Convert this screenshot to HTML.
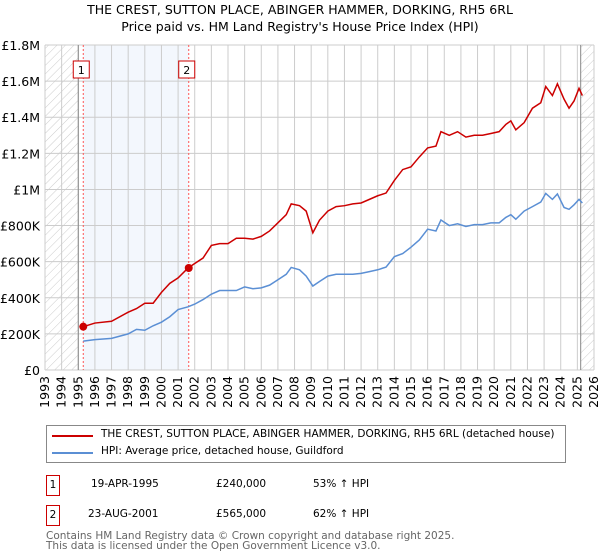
<!DOCTYPE html>
<html><head><meta charset="utf-8"><style>
body{margin:0;background:#fff;font-family:"DejaVu Sans","Liberation Sans",sans-serif;color:#000}
.t{position:absolute;font-size:13px;white-space:nowrap}
</style></head><body>
<div style="position:relative;width:600px;height:560px;overflow:hidden">
<div class="t" style="left:0;width:600px;text-align:center;top:2px;font-size:12.5px">THE CREST, SUTTON PLACE, ABINGER HAMMER, DORKING, RH5 6RL</div>
<div class="t" style="left:0;width:600px;text-align:center;top:19px;font-size:12.5px">Price paid vs. HM Land Registry's House Price Index (HPI)</div>
<svg id="chart" width="600" height="410" style="position:absolute;left:0;top:0">
<defs><pattern id="hatch" width="6" height="6" patternUnits="userSpaceOnUse" patternTransform="rotate(45)"><line x1="0" y1="0" x2="0" y2="6" stroke="#ccc" stroke-width="1"/></pattern></defs>
<g id="g"></g></svg>
<div style="position:absolute;left:46px;top:425px;width:520px;height:38px;border:1px solid #888;box-sizing:border-box">
<div style="position:absolute;left:5px;top:9px;width:41px;height:2px;background:#cc0000"></div>
<div class="t" style="left:54px;top:2px;font-size:10.5px">THE CREST, SUTTON PLACE, ABINGER HAMMER, DORKING, RH5 6RL (detached house)</div>
<div style="position:absolute;left:5px;top:26px;width:41px;height:2px;background:#5b8fd4"></div>
<div class="t" style="left:54px;top:19px;font-size:10.5px">HPI: Average price, detached house, Guildford</div>
</div>
<div style="position:absolute;left:46px;top:475px;width:14px;height:21px;border:1px solid #c00;box-sizing:border-box;font-size:10.5px;text-align:center;line-height:19px">1</div>
<div class="t" style="left:91px;top:478px;font-size:10.5px">19-APR-1995</div>
<div class="t" style="left:216px;top:478px;font-size:10.5px">£240,000</div>
<div class="t" style="left:313px;top:478px;font-size:10.5px">53% ↑ HPI</div>
<div style="position:absolute;left:46px;top:505px;width:14px;height:21px;border:1px solid #c00;box-sizing:border-box;font-size:10.5px;text-align:center;line-height:19px">2</div>
<div class="t" style="left:88px;top:508px;font-size:10.5px">23-AUG-2001</div>
<div class="t" style="left:216px;top:508px;font-size:10.5px">£565,000</div>
<div class="t" style="left:313px;top:508px;font-size:10.5px">62% ↑ HPI</div>
<div class="t" style="left:46px;top:531px;font-size:10.5px;color:#666;line-height:11px">Contains HM Land Registry data © Crown copyright and database right 2025.</div>
<div class="t" style="left:46px;top:541px;font-size:10.5px;color:#666;line-height:11px">This data is licensed under the Open Government Licence v3.0.</div>
</div>
<script>
const yTicks=[0,200000,400000,600000,800000,1000000,1200000,1400000,1600000,1800000];
const yTickLabels=["£0","£200K","£400K","£600K","£800K","£1M","£1.2M","£1.4M","£1.6M","£1.8M"];
const years=[1993,1994,1995,1996,1997,1998,1999,2000,2001,2002,2003,2004,2005,2006,2007,2008,2009,2010,2011,2012,2013,2014,2015,2016,2017,2018,2019,2020,2021,2022,2023,2024,2025,2026];
const saleDates=[1995.3,2001.64];
const salePrices=[240000,565000];
const saleLabels=["1","2"];
const hpiT=[1995.3,1996,1997,1998,1998.5,1999,1999.5,2000,2000.5,2001,2001.6,2002,2002.5,2003,2003.5,2004,2004.5,2005,2005.5,2006,2006.5,2007,2007.5,2007.8,2008.3,2008.7,2009.1,2009.5,2010,2010.5,2011,2011.5,2012,2012.5,2013,2013.5,2014,2014.5,2015,2015.5,2016,2016.5,2016.8,2017.3,2017.8,2018.3,2018.8,2019.3,2019.8,2020.3,2020.7,2021,2021.3,2021.8,2022.3,2022.8,2023.1,2023.5,2023.8,2024.2,2024.5,2024.8,2025.1,2025.3];
const hpiV=[160,168,175,200,225,220,245,265,295,335,350,365,390,420,440,440,440,460,450,455,470,500,530,568,555,520,465,490,520,530,530,530,535,545,555,570,628,645,680,720,780,770,831,800,810,795,805,805,815,815,845,860,835,880,905,930,978,945,975,900,890,915,945,925];
const priceT=hpiT;
const priceV=[240,260,270,320,340,370,370,430,480,510,565,590,620,690,700,700,730,730,725,740,770,815,860,920,910,880,760,830,880,905,910,920,925,945,965,980,1050,1110,1125,1180,1230,1240,1320,1300,1320,1290,1300,1300,1310,1320,1360,1380,1330,1370,1450,1480,1570,1520,1585,1500,1450,1490,1560,1520];
const X0=45,X1=594,Y0=370,Y1=45;
const xs=y=>X0+(y-1993)/(2026-1993)*(X1-X0);
const ys=v=>Y0-v/1800000*(Y0-Y1);
const g=document.getElementById('g');const NS='http://www.w3.org/2000/svg';
const FF='DejaVu Sans, Liberation Sans, sans-serif';
function mk(t,a,p){const e=document.createElementNS(NS,t);for(const k in a)e.setAttribute(k,a[k]);(p||g).appendChild(e);return e;}
let e;
e=mk('rect',{x:xs(saleDates[0]),y:Y1,width:xs(saleDates[1])-xs(saleDates[0]),height:Y0-Y1,fill:'#eef3fc',opacity:0.7});


e=mk('rect',{x:X0,y:Y1,width:xs(1995)-X0,height:Y0-Y1,fill:'url(#hatch)'});


e=mk('rect',{x:xs(2025.2),y:Y1,width:X1-xs(2025.2),height:Y0-Y1,fill:'url(#hatch)'});


years.forEach(y=>{
e=mk('line',{x1:xs(y),x2:xs(y),y1:Y1,y2:Y0,stroke:'#ccc'});


e=mk('text',{x:0,y:0,transform:`translate(${xs(y)+4},${Y0+6}) rotate(-90)`,'text-anchor':'end','font-size':12.5,'font-family':FF});e.textContent=y;


});
yTicks.forEach((v,i)=>{
e=mk('line',{x1:X0,x2:X1,y1:ys(v),y2:ys(v),stroke:'#ccc'});


e=mk('text',{x:X0-5,y:ys(v)+5,'text-anchor':'end','font-size':12.5,'font-family':FF});e.textContent=yTickLabels[i];


});
e=mk('line',{x1:xs(1995),x2:xs(1995),y1:Y1,y2:Y0,stroke:'#888'});


e=mk('line',{x1:xs(2025.2),x2:xs(2025.2),y1:Y1,y2:Y0,stroke:'#888'});


saleDates.forEach((d,i)=>{
e=mk('line',{x1:xs(d),x2:xs(d),y1:Y1,y2:Y0,stroke:'#f55','stroke-dasharray':'2,2'});


e=mk('rect',{x:xs(d)-10,y:61,width:16,height:17,fill:'#fff',stroke:'#c00'});


e=mk('text',{x:xs(d)-2,y:74,'text-anchor':'middle','font-size':11,'font-family':FF});e.textContent=saleLabels[i];


});
e=mk('polyline',{points:hpiT.map((t,i)=>xs(t)+','+ys(hpiV[i]*1000)).join(' '),fill:'none',stroke:'#5b8fd4','stroke-width':1.5});


e=mk('polyline',{points:priceT.map((t,i)=>xs(t)+','+ys(priceV[i]*1000)).join(' '),fill:'none',stroke:'#cc0000','stroke-width':1.5});


saleDates.forEach((d,i)=>{
e=mk('circle',{cx:xs(d),cy:ys(salePrices[i]),r:4,fill:'#cc0000'});


});
</script>
</body></html>
